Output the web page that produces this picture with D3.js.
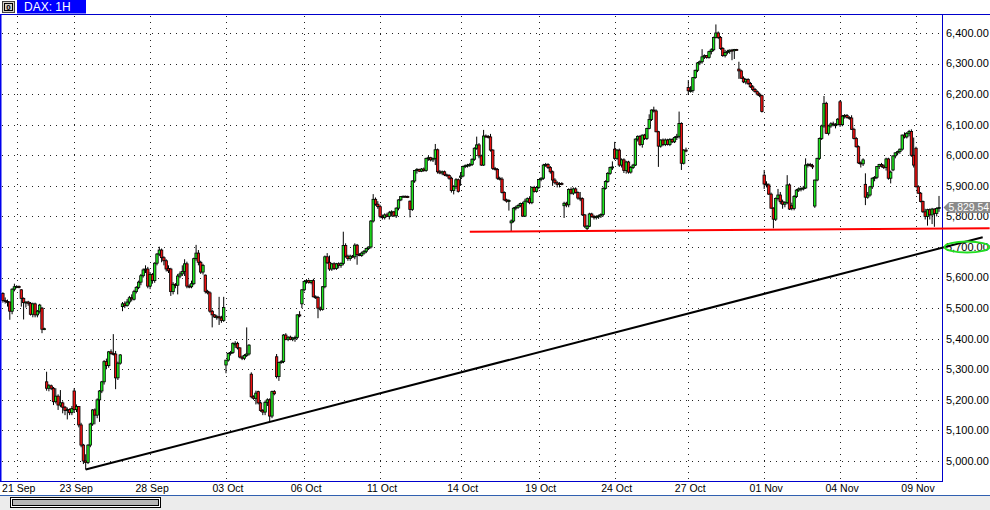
<!DOCTYPE html>
<html><head><meta charset="utf-8">
<script src="https://cdn.jsdelivr.net/npm/d3@7"></script>
<style>html,body{margin:0;padding:0;background:#fff;overflow:hidden}svg{display:block}</style>
</head><body>
<svg id="c" width="990" height="510"></svg>
<script>
const title = "DAX: 1H";
const tickLabels = ["21 Sep","23 Sep","28 Sep","03 Oct","06 Oct","11 Oct","14 Oct","19 Oct","24 Oct","27 Oct","01 Nov","04 Nov","09 Nov"];
const tickBars = [6,31,64,97,131,164,199,233,266,298,331,364,397];
const priceTicks = [5000,5100,5200,5300,5400,5500,5600,5700,5800,5900,6000,6100,6200,6300,6400];
const lastPrice = 5829.54;
const trendBars = [36, 426];
const trendPrices = [4972, 5732];
const supportBars = [203, 429];
const supportPrices = [5750, 5761];
const circledPrice = 5700;

const opens = [
5548,5525,5522,5520,5490,5562,5570,5571,5560,5532,5518,5520,5516,5480,5514,5478,5490,5500,5431,
5259,5238,5246,5238,5194,5212,5183,5190,5176,5165,5168,5158,5229,5168,5178,5118,5052,5000,4995,5052,5121,5167,5150,5200,5229,5259,5325,5312,5357,5352,5350,5272,5320,
5505,5514,5508,5520,5534,5529,5554,5568,5585,5606,5625,5628,5572,5610,5590,5647,5677,5690,5665,5655,5630,5628,5554,5577,5575,5605,5612,5620,5645,5572,5570,5580,5662,5680,5650,5618,5608,5555,5550,5490,5478,5471,5472,5468,5460,
5314,5330,5352,5355,5380,5385,5370,5340,5336,5345,5350,
5284,5210,5205,5227,5190,5165,5160,5192,5200,5147,5227,
5341,5276,5322,5325,5412,5398,5405,5398,5402,5404,5478,
5514,5560,5587,5590,5584,5590,5537,5535,5500,5496,5570,5668,5650,5628,5645,5630,5645,5640,5646,5705,5670,5662,5670,5668,5706,5675,5672,5680,5686,5695,5700,5785,5856,
5840,5832,5800,5796,5805,5800,5812,5815,5802,5827,5854,5865,5866,5865,5850,5823,5916,5950,5954,5948,5955,5950,5990,5992,5985,5990,6018,5946,5942,5946,5936,5934,5925,5885,5898,5920,
5928,5932,5963,5966,5968,5970,5987,6023,6034,5998,5968,6063,6062,6060,6017,5957,5954,5925,5922,5878,5854,5850,
5779,5785,5827,5830,5836,5842,5801,5850,5858,5845,5895,5882,5895,5921,5925,5968,5970,5960,5946,5919,5910,5905,5908,
5835,5843,5838,5888,5876,5890,5878,5860,5858,5805,5760,5768,5808,5800,5796,5800,5802,5806,5892,5914,5941,5960,
6020,5990,6017,5968,5985,5950,5978,5945,5960,5968,6053,6062,6035,6066,6055,6088,6117,6148,6145,6077,6030,6050,6035,6050,6035,6052,6044,6058,6062,6104,5974,6017,
6222,6211,6212,6254,6278,6302,6306,6322,6326,6320,
6339,6345,6385,6400,6385,6349,6326,6336,6340,6344,6342,6346,
6282,6276,6252,6240,6248,6235,6224,6215,6208,6200,6195,
5935,5906,5903,5873,5827,5791,5859,5870,5848,5840,5845,5903,5835,5826,5865,5886,5890,5892,5893,5968,5970,5966,5834,5919,5990,6055,6096,6170,6072,6096,6103,6100,6100,
6175,6100,6128,6130,6124,6122,6085,6055,6028,5975,5972,
5905,5863,5870,5897,5925,5928,5963,5970,5965,5960,5988,5925,
5952,5998,6008,6012,6020,6066,6060,6072,6078,6000,
6023,5897,5876,5849,5815,5800,5822,5805,5824,5810,5826];

const highs = [
5552,5535,5528,5522,5565,5580,5575,5574,5562,5535,5522,5524,5520,5518,5518,5494,5514,5504,5436,
5292,5252,5250,5242,5238,5218,5232,5195,5180,5175,5172,5180,5238,5185,5180,5125,5056,5022,5055,5125,5170,5172,5205,5232,5262,5330,5335,5360,5365,5415,5360,5325,5350,
5520,5522,5530,5540,5545,5560,5572,5590,5612,5630,5640,5635,5618,5615,5650,5680,5701,5695,5670,5660,5640,5632,5585,5582,5612,5620,5640,5660,5652,5578,5590,5665,5707,5690,5655,5645,5610,5560,5555,5495,5480,5478,5537,5475,5537,
5330,5355,5360,5388,5392,5390,5372,5345,5350,5437,5382,
5290,5215,5230,5230,5195,5170,5198,5205,5205,5230,5232,
5350,5325,5330,5415,5418,5408,5410,5406,5410,5480,5490,
5562,5590,5595,5594,5592,5596,5542,5540,5505,5572,5672,5680,5672,5648,5650,5648,5650,5650,5750,5712,5675,5675,5674,5712,5710,5680,5685,5690,5698,5702,5788,5873,5862,
5850,5838,5806,5810,5812,5818,5820,5818,5830,5856,5866,5868,5868,5868,5852,5918,5952,5958,5956,5958,5960,5992,5998,5995,5992,6037,6022,5952,5950,5950,5940,5938,5930,5902,5925,5924,
5945,5966,5970,5972,5975,5990,6026,6061,6040,6002,6083,6068,6066,6070,6020,5962,5958,5930,5928,5882,5858,5856,
5790,5830,5835,5840,5845,5848,5858,5862,5866,5898,5900,5898,5922,5928,5972,5975,5974,5965,5950,5925,5915,5912,5912,
5848,5848,5892,5895,5895,5895,5882,5880,5862,5808,5772,5812,5812,5805,5804,5806,5810,5895,5918,5945,5963,5980,
6044,6020,6022,5990,5990,5982,5982,5965,5972,6055,6065,6066,6068,6070,6090,6134,6150,6159,6150,6080,6052,6055,6055,6054,6056,6056,6062,6070,6143,6108,6020,6025,
6246,6226,6256,6280,6305,6310,6347,6330,6328,6342,
6350,6388,6428,6405,6390,6354,6345,6345,6346,6348,6348,6348,
6306,6280,6258,6252,6252,6240,6230,6220,6212,6205,6198,
5952,5915,5908,5878,5830,5862,5890,5880,5855,5850,5935,5908,5845,5870,5890,5895,5895,5900,5990,5975,5975,5972,5920,5992,6058,6100,6194,6175,6100,6108,6110,6105,6122,
6180,6132,6135,6135,6128,6131,6090,6060,6032,5980,5990,
5941,5880,5900,5928,5932,5965,5972,5975,5970,5992,5992,5950,
6000,6010,6015,6022,6068,6075,6076,6083,6085,6058,
6028,5902,5880,5852,5825,5825,5826,5828,5826,5830,5867];

const lows = [
5518,5515,5505,5462,5480,5555,5565,5565,5505,5463,5502,5508,5476,5470,5470,5470,5482,5418,5428,
5230,5228,5232,5183,5188,5167,5176,5156,5150,5136,5150,5150,5160,5160,5110,5045,4990,4972,4990,5045,5115,5120,5140,5128,5222,5250,5300,5305,5348,5345,5235,5265,5315,
5490,5500,5505,5512,5522,5525,5548,5562,5575,5600,5615,5565,5562,5580,5583,5640,5670,5650,5640,5620,5615,5540,5545,5565,5545,5598,5605,5605,5565,5565,5565,5575,5655,5640,5612,5610,5548,5545,5485,5437,5468,5462,5445,5452,5455,
5287,5325,5345,5350,5370,5365,5336,5330,5330,5340,5345,
5205,5200,5185,5185,5161,5150,5150,5180,5128,5140,5215,
5270,5262,5318,5320,5395,5392,5395,5392,5390,5398,5470,
5500,5555,5580,5580,5578,5535,5530,5467,5490,5492,5565,5645,5622,5622,5625,5625,5630,5632,5640,5665,5655,5655,5665,5660,5642,5670,5668,5675,5680,5690,5695,5780,5835,
5825,5794,5790,5790,5798,5790,5800,5798,5795,5820,5850,5862,5862,5860,5797,5818,5910,5940,5945,5945,5946,5946,5982,5980,5978,5968,5940,5938,5935,5932,5930,5920,5878,5872,5890,5878,
5900,5928,5958,5960,5962,5965,5982,6018,5990,5965,5965,6058,6055,6012,5952,5950,5920,5918,5875,5850,5845,5819,
5750,5780,5820,5825,5830,5798,5798,5845,5840,5840,5878,5878,5890,5915,5920,5962,5955,5940,5900,5905,5895,5895,5902,
5795,5830,5830,5872,5870,5875,5855,5850,5802,5762,5755,5765,5796,5790,5790,5792,5795,5800,5888,5910,5936,5952,
5985,5985,5962,5960,5942,5940,5940,5940,5955,5965,6045,6030,6025,6050,6050,6085,6112,6140,6075,5962,6025,6030,6030,6032,6030,6040,6040,6050,6055,5952,5970,6010,
6197,6205,6205,6250,6272,6295,6300,6315,6316,6316,
6330,6340,6382,6380,6345,6322,6320,6330,6332,6311,6315,6343,
6250,6250,6236,6232,6230,6220,6210,6205,6195,6190,6140,
5890,5895,5870,5825,5761,5785,5852,5840,5825,5830,5840,5821,5820,5820,5860,5880,5882,5885,5890,5960,5962,5955,5828,5915,5985,6050,6090,6070,6065,6090,6095,6088,6098,
6093,6095,6120,6120,6116,6083,6052,6025,5972,5960,5965,
5837,5858,5865,5890,5915,5922,5955,5960,5955,5950,5920,5908,
5948,5990,6000,6005,6015,6055,6055,6062,5995,5960,
5895,5874,5846,5812,5790,5770,5790,5775,5766,5800,5815];

const closes = [
5525,5522,5520,5490,5562,5570,5571,5568,5532,5518,5520,5516,5480,5514,5478,5490,5510,5431,5433,
5238,5246,5238,5194,5212,5183,5190,5176,5165,5168,5158,5172,5168,5178,5118,5052,5000,4995,5052,5121,5167,5150,5200,5229,5259,5325,5312,5357,5352,5350,5272,5320,5347,
5514,5508,5520,5534,5530,5554,5568,5585,5606,5625,5628,5572,5610,5590,5647,5677,5690,5665,5655,5628,5622,5554,5578,5575,5605,5612,5620,5645,5572,5570,5580,5662,5680,5650,5618,5640,5555,5550,5490,5478,5471,5472,5468,5460,5502,
5330,5352,5355,5385,5385,5370,5340,5336,5345,5350,5379,
5210,5205,5222,5190,5165,5160,5192,5200,5147,5227,5220,
5276,5322,5325,5412,5398,5405,5398,5402,5404,5478,5475,
5560,5587,5590,5584,5590,5537,5535,5500,5496,5570,5668,5648,5628,5645,5630,5645,5640,5646,5705,5670,5662,5670,5668,5706,5675,5672,5680,5686,5695,5700,5785,5856,5840,
5832,5800,5796,5805,5800,5812,5815,5802,5827,5854,5865,5866,5865,5864,5823,5916,5950,5954,5948,5955,5950,5990,5992,5985,5990,6018,5946,5942,5946,5936,5934,5925,5885,5898,5920,5882,
5932,5963,5966,5968,5970,5987,6023,6034,5998,5968,6063,6062,6060,6017,5957,5954,5925,5922,5878,5854,5850,5852,
5785,5827,5830,5836,5842,5801,5850,5858,5845,5895,5882,5895,5921,5925,5968,5970,5960,5946,5919,5910,5905,5908,5906,
5843,5838,5888,5876,5890,5878,5860,5858,5805,5768,5768,5808,5800,5796,5800,5802,5806,5892,5914,5941,5960,5962,
5990,6017,5968,5985,5950,5978,5945,5960,5968,6053,6062,6035,6066,6055,6088,6117,6148,6145,6077,6030,6050,6035,6050,6035,6052,6044,6058,6062,6104,5974,6017,6015,
6211,6212,6254,6278,6302,6306,6322,6326,6320,6339,
6345,6385,6400,6385,6349,6326,6336,6340,6344,6342,6346,6345,
6276,6252,6240,6248,6235,6224,6215,6208,6200,6195,6143,
5906,5903,5873,5827,5791,5859,5870,5848,5840,5845,5903,5824,5826,5865,5886,5890,5892,5893,5968,5970,5966,5962,5919,5990,6055,6096,6170,6072,6096,6103,6100,6100,6118,
6100,6128,6130,6124,6122,6085,6055,6028,5975,5972,5985,
5863,5870,5897,5925,5928,5963,5970,5965,5960,5988,5925,5945,
5998,6008,6012,6020,6066,6060,6072,6078,6000,5968,
5897,5876,5849,5815,5800,5822,5805,5824,5810,5826,5829.54];

const n = Math.min(opens.length, highs.length, lows.length, closes.length);
const bars = d3.range(n).map(i => ({i, o: opens[i], h: highs[i], l: lows[i], c: closes[i]}));

const svg = d3.select("#c");
const W = 990, H = 510;
const PR = 942, PT = 14, PB = 481;
const FONT = "'Liberation Sans', Arial, sans-serif";

const x = d3.scaleLinear().domain([0, 407]).range([2.9, 939]);
const y = d3.scaleLinear().domain([5000, 6400]).range([461, 33]);

svg.append("rect").attr("width", W).attr("height", H).attr("fill", "#fff");

// grid
const grid = svg.append("g");
grid.selectAll("line.h").data(priceTicks).join("line")
  .attr("x1", 2).attr("x2", PR).attr("y1", d => Math.round(y(d)) + 0.5).attr("y2", d => Math.round(y(d)) + 0.5)
  .attr("stroke", "#222").attr("stroke-width", 1).attr("stroke-dasharray", "1,5");
grid.selectAll("line.v").data(tickBars).join("line")
  .attr("x1", d => Math.round(x(d)) + 0.5).attr("x2", d => Math.round(x(d)) + 0.5)
  .attr("y1", PT + 2).attr("y2", PB)
  .attr("stroke", "#222").attr("stroke-width", 1).attr("stroke-dasharray", "1,5");

// candles
const cg = svg.append("g");
cg.selectAll("line").data(bars).join("line")
  .attr("x1", d => x(d.i)).attr("x2", d => x(d.i))
  .attr("y1", d => y(d.h)).attr("y2", d => y(d.l))
  .attr("stroke", "#000").attr("stroke-width", 1);
cg.selectAll("rect").data(bars).join("rect")
  .attr("x", d => x(d.i) - 1.2).attr("width", 2.4)
  .attr("y", d => y(Math.max(d.o, d.c)))
  .attr("height", d => Math.max(1, Math.abs(y(d.o) - y(d.c))))
  .attr("fill", d => d.c >= d.o ? "#1ee61e" : "#ee1111")
  .attr("stroke", "#000").attr("stroke-width", 0.8);

// frame
svg.append("line").attr("x1", 0).attr("x2", W).attr("y1", PT + 0.5).attr("y2", PT + 0.5).attr("stroke", "#0000cc");
svg.append("rect").attr("x", 0.5).attr("y", PT + 0.5).attr("width", PR).attr("height", PB - PT)
  .attr("fill", "none").attr("stroke", "#0000cc").attr("stroke-width", 1);
svg.append("rect").attr("x", 0).attr("y", PT).attr("width", 1.5).attr("height", PB - PT).attr("fill", "#0000ee");

// y labels
svg.append("g").selectAll("text").data(priceTicks).join("text")
  .attr("x", 946).attr("y", d => y(d)).attr("dy", "0.35em")
  .attr("font-family", FONT).attr("font-size", 11).attr("fill", "#000")
  .text(d => d3.format(",.2f")(d));

// x labels
svg.append("g").selectAll("text").data(tickBars).join("text")
  .attr("x", d => x(d) + 2).attr("y", 492).attr("text-anchor", "middle")
  .attr("font-family", FONT).attr("font-size", 10.5).attr("fill", "#000")
  .text((d, k) => tickLabels[k]);

// last price box
const ly = y(lastPrice);
svg.append("path")
  .attr("d", `M943.5,${ly} L949,${ly - 5.5} L990,${ly - 5.5} L990,${ly + 5.5} L949,${ly + 5.5} Z`)
  .attr("fill", "#8a8a8a");
svg.append("text").attr("x", 948.5).attr("y", ly).attr("dy", "0.36em")
  .attr("font-family", FONT).attr("font-size", 10.4).attr("fill", "#fff")
  .text(d3.format(",.2f")(lastPrice));

// support (red) line and trend line
svg.append("line")
  .attr("x1", x(supportBars[0])).attr("y1", y(supportPrices[0]))
  .attr("x2", x(supportBars[1])).attr("y2", y(supportPrices[1]))
  .attr("stroke", "#ff0000").attr("stroke-width", 2);
svg.append("line")
  .attr("x1", x(trendBars[0])).attr("y1", y(trendPrices[0]))
  .attr("x2", x(trendBars[1])).attr("y2", y(trendPrices[1]))
  .attr("stroke", "#000").attr("stroke-width", 2);

// green ellipse around the 5,700 label
svg.append("ellipse").attr("cx", 967).attr("cy", y(circledPrice)).attr("rx", 22.5).attr("ry", 5.5)
  .attr("fill", "none").attr("stroke", "#22dd22").attr("stroke-width", 2);

// header
svg.append("rect").attr("x", 2.5).attr("y", 1.5).attr("width", 12).attr("height", 11)
  .attr("fill", "#d4d0c8").attr("stroke", "#404040");
svg.append("rect").attr("x", 4.5).attr("y", 3.5).attr("width", 8).attr("height", 7)
  .attr("fill", "none").attr("stroke", "#000");
svg.append("text").attr("x", 8.5).attr("y", 10).attr("text-anchor", "middle")
  .attr("font-family", FONT).attr("font-size", 8).attr("font-weight", "bold").text("0");
svg.append("rect").attr("x", 17).attr("y", 0).attr("width", 69).attr("height", 13.5).attr("fill", "#0000ff");
svg.append("text").attr("x", 24).attr("y", 11).attr("font-family", FONT).attr("font-size", 12)
  .attr("fill", "#fff").text(title);

// bottom scroll area
svg.append("rect").attr("x", 0).attr("y", 496).attr("width", W).attr("height", 14).attr("fill", "#ececec");
svg.append("line").attr("x1", 0).attr("x2", W).attr("y1", 495.5).attr("y2", 495.5).attr("stroke", "#2f5fb0");
svg.append("rect").attr("x", 10.5).attr("y", 497.5).attr("width", 150).attr("height", 10)
  .attr("fill", "#fff").attr("stroke", "#000");
svg.append("rect").attr("x", 12.5).attr("y", 499.5).attr("width", 146).attr("height", 6)
  .attr("fill", "#b8b8b8").attr("stroke", "#000");
</script>
</body></html>
